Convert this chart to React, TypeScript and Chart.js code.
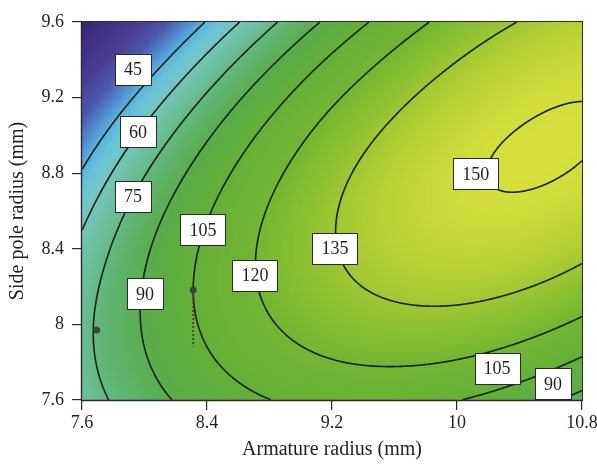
import React, { useEffect, useRef } from "react";
import { Chart, registerables } from "chart.js";

Chart.register(...registerables);

// Grid of the fitted response (columns: armature radius, rows: side pole radius)
const armatureRadius = [7.6, 8.0, 8.4, 8.8, 9.2, 9.6, 10.0, 10.4, 10.8];
const sidePoleRadius = [7.6, 8.0, 8.4, 8.8, 9.2, 9.6];
const responseAt76 = [67.4, 84.0, 96.4, 104.8, 109.1, 109.3, 105.4, 97.5, 85.4];
const responseAt80 = [71.0, 91.1, 107.1, 119.0, 126.9, 130.6, 130.3, 125.8, 117.3];
const responseAt84 = [63.3, 87.9, 107.4, 122.9, 134.2, 141.5, 144.7, 143.6, 138.3];
const responseAt88 = [46.1, 74.2, 97.3, 116.3, 131.2, 141.7, 148.3, 150.8, 149.2];
const responseAt92 = [19.5, 50.2, 76.8, 99.3, 117.7, 131.6, 141.5, 147.6, 149.8];
const responseAt96 = [-18.5, 15.7, 45.9, 71.9, 93.9, 111.8, 125.6, 135.3, 140.9];
const responseRows = [responseAt76, responseAt80, responseAt84, responseAt88, responseAt92, responseAt96];

const contourLevels = [45, 60, 75, 90, 105, 120, 135, 150];

const xTicks = [7.6, 8.4, 9.2, 10, 10.8];
const yTicks = [7.6, 8, 8.4, 8.8, 9.2, 9.6];

// In-line contour labels
const labelValues = [45, 60, 75, 90, 105, 120, 135, 150, 105, 90];
const labelX = [7.926, 7.958, 7.926, 8.003, 8.374, 8.707, 9.219, 10.12, 10.256, 10.614];
const labelY = [9.351, 9.018, 8.679, 8.161, 8.5, 8.261, 8.404, 8.796, 7.769, 7.685];

// Marked points and the dotted guide below the second one
const markerX = [7.694, 8.312];
const markerY = [7.97, 8.182];
const guideX = [8.312, 8.312];
const guideY = [8.182, 7.882];

const serif = '"Liberation Serif", "DejaVu Serif", serif';
const textColor = "#231f20";

// Colour ramp: value stops and their RGB colours
const rampValues = [-20, 0, 15, 28, 37, 45, 52, 60, 70, 80, 92, 105, 120, 130, 140, 150, 155];
const rampColors = [
  [56, 36, 112],
  [66, 50, 135],
  [74, 62, 148],
  [76, 88, 172],
  [80, 135, 205],
  [90, 178, 222],
  [106, 196, 216],
  [116, 198, 188],
  [106, 190, 150],
  [94, 180, 112],
  [90, 172, 72],
  [100, 176, 56],
  [114, 182, 50],
  [140, 192, 50],
  [178, 206, 52],
  [212, 222, 60],
  [220, 228, 64],
];

function rampColor(v: number): number[] {
  if (v <= rampValues[0]) return rampColors[0];
  const n = rampValues.length;
  if (v >= rampValues[n - 1]) return rampColors[n - 1];
  let k = 0;
  while (k < n - 2 && v > rampValues[k + 1]) k++;
  const t = (v - rampValues[k]) / (rampValues[k + 1] - rampValues[k]);
  const a = rampColors[k];
  const b = rampColors[k + 1];
  return [a[0] + (b[0] - a[0]) * t, a[1] + (b[1] - a[1]) * t, a[2] + (b[2] - a[2]) * t];
}

// Grid padded by one ghost cell on each side (quadratic extrapolation)
function paddedGrid(): number[][] {
  const nx = armatureRadius.length;
  const ny = sidePoleRadius.length;
  const g: number[][] = [];
  for (let j = 0; j < ny; j++) {
    const row = responseRows[j];
    const left = 3 * row[0] - 3 * row[1] + row[2];
    const right = 3 * row[nx - 1] - 3 * row[nx - 2] + row[nx - 3];
    g.push([left, ...row, right]);
  }
  const below: number[] = [];
  const above: number[] = [];
  for (let i = 0; i < nx + 2; i++) {
    below.push(3 * g[0][i] - 3 * g[1][i] + g[2][i]);
    above.push(3 * g[ny - 1][i] - 3 * g[ny - 2][i] + g[ny - 3][i]);
  }
  return [below, ...g, above];
}

function catmullRom(p0: number, p1: number, p2: number, p3: number, t: number) {
  return (
    0.5 *
    (2 * p1 +
      (p2 - p0) * t +
      (2 * p0 - 5 * p1 + 4 * p2 - p3) * t * t +
      (3 * p1 - p0 - 3 * p2 + p3) * t * t * t)
  );
}

function sampleSurface(G: number[][], xv: number, yv: number) {
  const nx = armatureRadius.length;
  const ny = sidePoleRadius.length;
  const dx = (armatureRadius[nx - 1] - armatureRadius[0]) / (nx - 1);
  const dy = (sidePoleRadius[ny - 1] - sidePoleRadius[0]) / (ny - 1);
  const fx = (xv - armatureRadius[0]) / dx;
  const fy = (yv - sidePoleRadius[0]) / dy;
  const i = Math.min(Math.max(Math.floor(fx), 0), nx - 2);
  const j = Math.min(Math.max(Math.floor(fy), 0), ny - 2);
  const tx = fx - i;
  const ty = fy - j;
  const r: number[] = [];
  for (let k = 0; k < 4; k++) {
    const row = G[j + k];
    r.push(catmullRom(row[i], row[i + 1], row[i + 2], row[i + 3], tx));
  }
  return catmullRom(r[0], r[1], r[2], r[3], ty);
}

const surfacePlugin = {
  id: "responseSurface",
  beforeDatasetsDraw(chart: any) {
    const { ctx, chartArea, scales } = chart;
    const xs = scales.x;
    const ys = scales.y;
    const L = Math.round(chartArea.left);
    const T = Math.round(chartArea.top);
    const W = Math.round(chartArea.right) - L;
    const H = Math.round(chartArea.bottom) - T;
    const G = paddedGrid();

    const xVals = new Float64Array(W);
    const yVals = new Float64Array(H);
    for (let i = 0; i < W; i++) xVals[i] = xs.getValueForPixel(L + i + 0.5);
    for (let j = 0; j < H; j++) yVals[j] = ys.getValueForPixel(T + j + 0.5);

    const field = new Float32Array(W * H);
    const off = document.createElement("canvas");
    off.width = W;
    off.height = H;
    const octx = off.getContext("2d")!;
    const img = octx.createImageData(W, H);
    for (let j = 0; j < H; j++) {
      for (let i = 0; i < W; i++) {
        const v = sampleSurface(G, xVals[i], yVals[j]);
        field[j * W + i] = v;
        const c = rampColor(v);
        const p = (j * W + i) * 4;
        img.data[p] = c[0];
        img.data[p + 1] = c[1];
        img.data[p + 2] = c[2];
        img.data[p + 3] = 255;
      }
    }
    octx.putImageData(img, 0, 0);

    ctx.save();
    ctx.drawImage(off, L, T);

    // Contour lines by marching squares over the sampled field
    ctx.beginPath();
    for (const lv of contourLevels) {
      for (let j = 0; j < H - 1; j++) {
        const y0 = T + j + 0.5;
        for (let i = 0; i < W - 1; i++) {
          const a = field[j * W + i];
          const b = field[j * W + i + 1];
          const c = field[(j + 1) * W + i + 1];
          const d = field[(j + 1) * W + i];
          const x0 = L + i + 0.5;
          const pts: number[][] = [];
          if (a < lv !== b < lv) pts.push([x0 + (lv - a) / (b - a), y0]);
          if (b < lv !== c < lv) pts.push([x0 + 1, y0 + (lv - b) / (c - b)]);
          if (d < lv !== c < lv) pts.push([x0 + (lv - d) / (c - d), y0 + 1]);
          if (a < lv !== d < lv) pts.push([x0, y0 + (lv - a) / (d - a)]);
          for (let k = 0; k + 1 < pts.length; k += 2) {
            ctx.moveTo(pts[k][0], pts[k][1]);
            ctx.lineTo(pts[k + 1][0], pts[k + 1][1]);
          }
        }
      }
    }
    ctx.strokeStyle = "#15200e";
    ctx.lineWidth = 1.6;
    ctx.lineCap = "round";
    ctx.lineJoin = "round";
    ctx.stroke();
    ctx.restore();
  },
  afterDatasetsDraw(chart: any) {
    const { ctx, chartArea, scales } = chart;
    const xs = scales.x;
    const ys = scales.y;
    ctx.save();
    ctx.font = `18px ${serif}`;
    ctx.textAlign = "center";
    ctx.textBaseline = "middle";
    for (let k = 0; k < labelValues.length; k++) {
      const text = String(labelValues[k]);
      const px = xs.getPixelForValue(labelX[k]);
      const py = ys.getPixelForValue(labelY[k]);
      const bw = Math.round(ctx.measureText(text).width + 18);
      const bh = 31;
      const bx = Math.round(px - bw / 2) + 0.5;
      const by = Math.round(py - bh / 2) + 0.5;
      ctx.fillStyle = "#ffffff";
      ctx.fillRect(bx, by, bw, bh);
      ctx.strokeStyle = "#2a2a2a";
      ctx.lineWidth = 1;
      ctx.strokeRect(bx, by, bw, bh);
      ctx.fillStyle = textColor;
      ctx.fillText(text, px, py + 1);
    }

    // Plot frame
    const L = Math.round(chartArea.left);
    const T = Math.round(chartArea.top);
    const R = Math.round(chartArea.right);
    const B = Math.round(chartArea.bottom);
    ctx.strokeStyle = "#2b2b2b";
    ctx.lineWidth = 1;
    ctx.strokeRect(L - 0.5, T - 0.5, R - L + 1, B - T + 1);
    ctx.lineWidth = 1.4;
    ctx.beginPath();
    ctx.moveTo(L - 0.5, T - 0.5);
    ctx.lineTo(L - 0.5, B + 0.5);
    ctx.lineTo(R + 0.5, B + 0.5);
    ctx.stroke();
    ctx.restore();
  },
};

function tickText(v: number) {
  const r = Math.round(v * 10) / 10;
  return Number.isInteger(r) ? String(r) : r.toFixed(1);
}

export default function App() {
  const canvasRef = useRef<HTMLCanvasElement | null>(null);

  useEffect(() => {
    const canvas = canvasRef.current;
    if (!canvas) return;
    const chart = new Chart(canvas, {
      type: "scatter",
      data: {
        datasets: [
          {
            data: guideX.map((x, i) => ({ x, y: guideY[i] })),
            showLine: true,
            borderColor: "#3a4736",
            borderWidth: 2,
            borderDash: [2, 2],
            pointRadius: 0,
          },
          {
            data: markerX.map((x, i) => ({ x, y: markerY[i] })),
            pointRadius: 3.5,
            backgroundColor: "#3a4736",
            borderWidth: 0,
          },
        ],
      },
      options: {
        animation: false,
        responsive: false,
        maintainAspectRatio: false,
        layout: { padding: { left: 0, top: 22, right: 15, bottom: 0 } },
        plugins: {
          legend: { display: false },
          tooltip: { enabled: false },
        },
        scales: {
          x: {
            type: "linear",
            min: 7.6,
            max: 10.8,
            afterBuildTicks: (s: any) => {
              s.ticks = xTicks.map((value) => ({ value }));
            },
            afterFit: (s: any) => {
              s.height = 66;
              s.paddingLeft = 0;
              s.paddingRight = 0;
            },
            border: { display: false },
            grid: { drawOnChartArea: false, drawTicks: true, tickLength: 10, color: "#2b2b2b", lineWidth: 1.2 },
            ticks: {
              color: textColor,
              font: { family: serif, size: 18 },
              padding: 2,
              maxRotation: 0,
              autoSkip: false,
              callback: (v: any) => tickText(Number(v)),
            },
            title: {
              display: true,
              text: "Armature radius (mm)",
              color: textColor,
              font: { family: serif, size: 20 },
              padding: { top: 0, bottom: 4 },
            },
          },
          y: {
            type: "linear",
            min: 7.6,
            max: 9.6,
            afterBuildTicks: (s: any) => {
              s.ticks = yTicks.map((value) => ({ value }));
            },
            afterFit: (s: any) => {
              s.width = 82;
              s.paddingTop = 0;
              s.paddingBottom = 0;
            },
            border: { display: false },
            grid: { drawOnChartArea: false, drawTicks: true, tickLength: 10, color: "#2b2b2b", lineWidth: 1.2 },
            ticks: {
              color: textColor,
              font: { family: serif, size: 18 },
              padding: 8,
              autoSkip: false,
              callback: (v: any) => tickText(Number(v)),
            },
            title: {
              display: true,
              text: "Side pole radius (mm)",
              color: textColor,
              font: { family: serif, size: 20 },
              padding: { top: 6, bottom: 0 },
            },
          },
        },
      },
      plugins: [surfacePlugin],
    } as any);
    return () => chart.destroy();
  }, []);

  return (
    <div style={{ position: "fixed", left: 0, top: 0, width: 597, height: 466, background: "#ffffff" }}>
      <canvas ref={canvasRef} width={597} height={466} style={{ display: "block" }} />
    </div>
  );
}
